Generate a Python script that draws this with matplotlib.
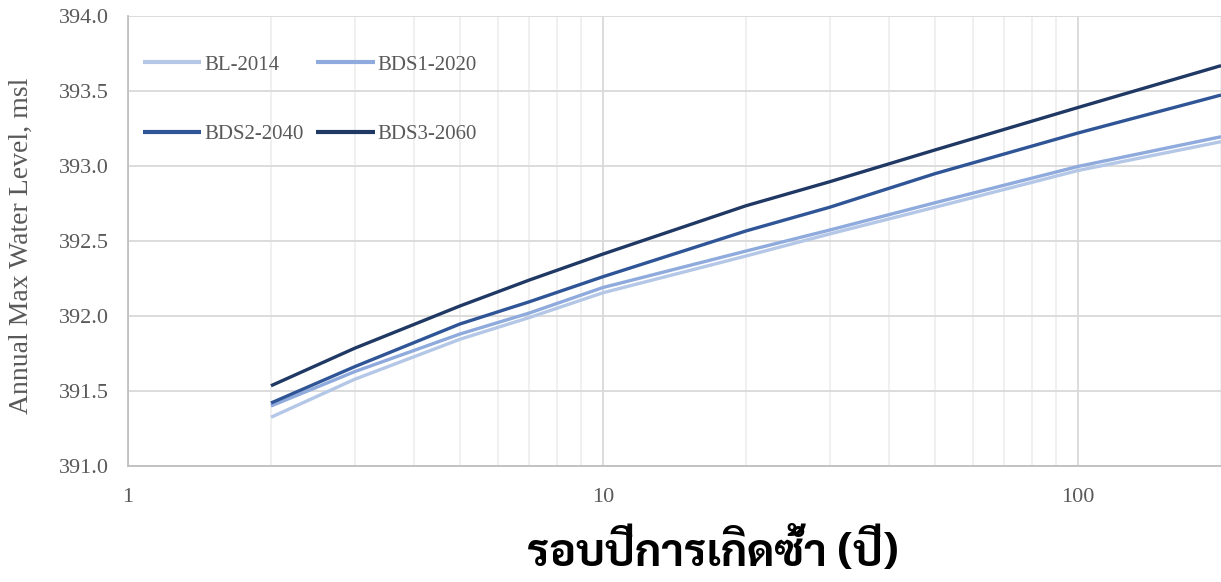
import matplotlib
matplotlib.use("Agg")
import matplotlib.pyplot as plt
from matplotlib import font_manager
from matplotlib.ft2font import FT2Font
from matplotlib.ticker import LogLocator, FixedLocator, NullFormatter, FixedFormatter

# ---- data ----
return_period = [2, 3, 5, 7, 10, 20, 30, 50, 100, 200]
bl_2014   = [391.325, 391.578, 391.845, 391.990, 392.155, 392.400, 392.547, 392.725, 392.970, 393.162]
bds1_2020 = [391.400, 391.629, 391.880, 392.020, 392.190, 392.433, 392.573, 392.755, 392.997, 393.195]
bds2_2040 = [391.420, 391.662, 391.947, 392.095, 392.262, 392.567, 392.725, 392.949, 393.220, 393.473]
bds3_2060 = [391.535, 391.785, 392.067, 392.240, 392.413, 392.735, 392.895, 393.107, 393.390, 393.669]
series_names = ["BL-2014", "BDS1-2020", "BDS2-2040", "BDS3-2060"]
x_tick_values = [1, 10, 100]
x_tick_labels = ["1", "10", "100"]
y_ticks = [391.0, 391.5, 392.0, 392.5, 393.0, 393.5, 394.0]
xlabel_text = "รอบปีการเกิดซ้ำ (ปี)"
ylabel_text = "Annual Max Water Level, msl"

colors = ["#B4C7E7", "#8FAADC", "#2F5597", "#1F3864"]

# ---- pick a Thai-capable font with a bold face ----
thai_bold = set()
for f in font_manager.fontManager.ttflist:
    try:
        w = f.weight if isinstance(f.weight, int) else 400
        if w >= 700 and 0x0E23 in FT2Font(f.fname).get_charmap():
            thai_bold.add(f.name)
    except Exception:
        pass
prefs = ["Noto Sans Thai Looped", "Sarabun", "Noto Sans Thai", "IBM Plex Sans Thai Looped",
         "Anuphan", "Bai Jamjuree", "Chakra Petch"]
thai_font = next((p for p in prefs if p in thai_bold), sorted(thai_bold)[0] if thai_bold else "DejaVu Sans")

serif = "Liberation Serif"
grey = "#595959"

fig = plt.figure(figsize=(12.21, 5.82), dpi=100)
ax = fig.add_axes([128/1221, 1-466/582, (1221-128)/1221, (466-16)/582])

lines = []
for vals, name, c in zip([bl_2014, bds1_2020, bds2_2040, bds3_2060], series_names, colors):
    ln, = ax.plot(return_period, vals, color=c, lw=2.4, label=name, solid_capstyle="butt")
    lines.append(ln)

ax.set_xscale("log")
ax.set_xlim(1, 200)
ax.set_ylim(391.0, 394.0)
ax.xaxis.set_major_locator(FixedLocator(x_tick_values))
ax.xaxis.set_major_formatter(FixedFormatter(x_tick_labels))
ax.xaxis.set_minor_locator(LogLocator(base=10, subs=range(2, 10), numticks=20))
ax.xaxis.set_minor_formatter(NullFormatter())
ax.set_yticks(y_ticks)
ax.set_yticklabels([f"{v:.1f}" for v in y_ticks])

ax.grid(which="major", axis="both", color="#D9D9D9", lw=1.3)
ax.grid(which="minor", axis="x", color="#EFEFEF", lw=1.3)
ax.set_axisbelow(True)
for s in ["top", "right"]:
    ax.spines[s].set_visible(False)
for s in ["left", "bottom"]:
    ax.spines[s].set_color("#BFBFBF")
    ax.spines[s].set_linewidth(1.3)
ax.tick_params(which="both", length=0)
ax.tick_params(axis="y", pad=14)
ax.tick_params(axis="x", pad=16)
for lab in ax.get_xticklabels() + ax.get_yticklabels():
    lab.set_fontfamily(serif)
    lab.set_fontsize(16)
    lab.set_color(grey)

ax.set_ylabel(ylabel_text, fontfamily=serif, fontsize=20, color=grey)
ax.yaxis.set_label_coords(-(128-34)/1093, 0.49)

fig.text(713/1221, 1-553/582, xlabel_text, fontfamily=thai_font, fontweight="bold",
         fontsize=32, color="black", ha="center", va="center")

order = [0, 2, 1, 3]
leg = ax.legend([lines[i] for i in order], [series_names[i] for i in order],
                loc="upper left", bbox_to_anchor=(15/1093, 1-39/450), ncol=2, frameon=False,
                prop={"family": serif, "size": 15}, labelcolor=grey, handlelength=2.8,
                handletextpad=0.15, columnspacing=0.6, labelspacing=2.4,
                borderaxespad=0, borderpad=0)
for h in leg.get_lines():
    h.set_linewidth(3.0)

fig.savefig("out.png", dpi=100)
